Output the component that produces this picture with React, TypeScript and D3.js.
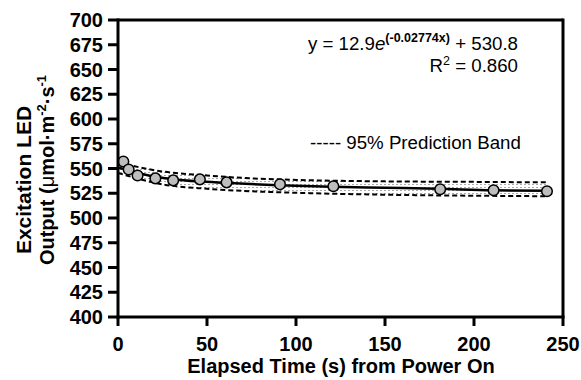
import React from "react";
import * as d3 from "d3";

const timeS = [3, 6, 11, 21, 31, 46, 61, 91, 121, 181, 211, 241];
const outputVals = [557, 549, 543, 540, 538, 539, 536, 534, 532, 529, 528, 527];

// fitted curve as drawn
const fitTime = [0, 10, 20, 30, 45, 60, 90, 120, 150, 180, 210, 241];
const fitVals = [551, 546, 542, 539.5, 537, 535.5, 533, 531.5, 530.5, 529.5, 528, 527.5];

// 95% prediction band
const bandTime = [0, 25, 50, 75, 100, 150, 200, 241];
const bandUpper = [556, 547, 543, 540, 538.5, 537, 536.5, 536];
const bandLower = [545.5, 534, 529.5, 527, 525.5, 523.5, 522.5, 522];

const xTicks = [0, 50, 100, 150, 200, 250];
const yTicks = [400, 425, 450, 475, 500, 525, 550, 575, 600, 625, 650, 675, 700];

const W = 581;
const H = 380;
const FONT = "'Liberation Sans', Arial, Helvetica, sans-serif";

export default function App() {
  const x = d3.scaleLinear().domain([0, 250]).range([118, 563]);
  const y = d3.scaleLinear().domain([400, 700]).range([317, 20]);

  const fitLine = d3
    .line<number>()
    .x((d, i) => x(fitTime[i]))
    .y((d) => y(d))
    .curve(d3.curveMonotoneX);

  const bandLine = d3
    .line<number>()
    .x((d, i) => x(bandTime[i]))
    .y((d) => y(d))
    .curve(d3.curveMonotoneX);

  const bandArea = d3
    .area<number>()
    .x((d, i) => x(bandTime[i]))
    .y0((d, i) => y(bandLower[i]))
    .y1((d) => y(d))
    .curve(d3.curveMonotoneX);

  const x0 = x.range()[0];
  const x1 = x.range()[1];
  const yb = y.range()[0];
  const yt = y.range()[1];

  return (
    <svg
      width={W}
      height={H}
      style={{ position: "absolute", left: 0, top: 0, background: "#fff" }}
      fontFamily={FONT}
    >
      <defs>
        <pattern id="dots" width="4" height="3" patternUnits="userSpaceOnUse">
          <rect width="4" height="3" fill="#fff" />
          <rect x="0" y="1" width="2" height="1" fill="#aaa" />
        </pattern>
      </defs>

      {/* prediction band */}
      <path d={bandArea(bandUpper) || ""} fill="url(#dots)" />
      <path d={bandLine(bandUpper) || ""} fill="none" stroke="#000" strokeWidth={2} strokeDasharray="5,3" />
      <path d={bandLine(bandLower) || ""} fill="none" stroke="#000" strokeWidth={2} strokeDasharray="5,3" />

      {/* fit */}
      <path d={fitLine(fitVals) || ""} fill="none" stroke="#000" strokeWidth={2.5} />

      {/* data points */}
      {timeS.map((t, i) => (
        <circle key={i} cx={x(t)} cy={y(outputVals[i])} r={5.3} fill="#bdbdbd" stroke="#000" strokeWidth={1.5} />
      ))}

      {/* frame */}
      <line x1={x0} x2={x1} y1={yt} y2={yt} stroke="#000" strokeWidth={3} />
      <line x1={x1} x2={x1} y1={yt - 1.5} y2={yb} stroke="#000" strokeWidth={3} />
      <line x1={x0} x2={x0} y1={yt - 1.5} y2={yb + 1.5} stroke="#000" strokeWidth={3} />
      <line x1={x0 - 1.5} x2={x1 + 1.5} y1={yb} y2={yb} stroke="#000" strokeWidth={3} />

      {/* y ticks */}
      {yTicks.map((t) => (
        <g key={t}>
          <line x1={x0 - 10} x2={x0} y1={y(t)} y2={y(t)} stroke="#000" strokeWidth={3} />
          <text x={x0 - 15} y={y(t)} dy="0.36em" textAnchor="end" fontSize={20} fontWeight="bold">
            {t}
          </text>
        </g>
      ))}

      {/* x ticks */}
      {xTicks.map((t) => (
        <g key={t}>
          <line x1={x(t)} x2={x(t)} y1={yb} y2={yb + 9} stroke="#000" strokeWidth={3} />
          <text x={x(t)} y={351} textAnchor="middle" fontSize={20} fontWeight="bold">
            {t}
          </text>
        </g>
      ))}

      {/* axis titles */}
      <text x={341} y={373} textAnchor="middle" fontSize={20} fontWeight="bold">
        Elapsed Time (s) from Power On
      </text>
      <text transform="translate(31,180) rotate(-90)" textAnchor="middle" fontSize={21} fontWeight="bold">
        Excitation LED
      </text>
      <text transform="translate(54,170) rotate(-90)" textAnchor="middle" fontSize={20} fontWeight="bold">
        Output (<tspan fontWeight="normal">μ</tspan>mol·m
        <tspan fontSize={13} dy={-8}>-2</tspan>
        <tspan dy={8}>·s</tspan>
        <tspan fontSize={13} dy={-8}>-1</tspan>
      </text>

      {/* equation */}
      <text x={518} y={50} textAnchor="end" fontSize={18.7}>
        y = 12.9<tspan fontStyle="italic">e</tspan>
        <tspan fontSize={12.5} fontWeight="bold" dy={-8}>(-0.02774x)</tspan>
        <tspan dy={8}> + 530.8</tspan>
      </text>
      <text x={518} y={72} textAnchor="end" fontSize={18.7}>
        R<tspan fontSize={12.5} dy={-7}>2</tspan>
        <tspan dy={7}> = 0.860</tspan>
      </text>

      {/* legend */}
      <text x={310} y={149} fontSize={18.7}>
        ----- 95% Prediction Band
      </text>
    </svg>
  );
}
